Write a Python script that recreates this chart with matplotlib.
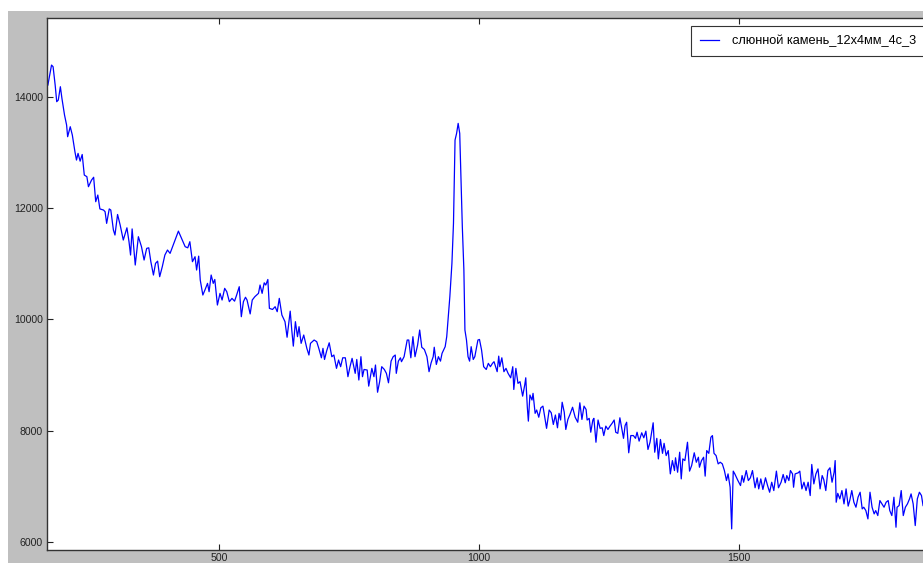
import numpy as np
import matplotlib
matplotlib.use("Agg")
import matplotlib.pyplot as plt
from matplotlib.patches import Rectangle

plt.rcParams['font.family'] = ['Liberation Sans', 'DejaVu Sans']

label = 'слюнной камень_12х4мм_4с_3'

# волновое число (отсчёты с графика)
shift = [
    171, 178, 181, 185, 188, 191, 195, 198, 203, 207, 209, 214, 218, 223, 226, 229,
    233, 237, 241, 246, 249, 255, 259, 263, 267, 271, 278, 281, 284, 289, 292, 297,
    300, 305, 310, 316, 323, 327, 330, 333, 339, 345, 351, 356, 361, 365, 369, 374,
    378, 382, 386, 391, 396, 401, 406, 412, 422, 428, 435, 440, 444, 449, 454,
    457, 461, 464, 469, 473, 478, 481, 485, 489, 492, 497, 502, 506, 511, 515, 520,
    525, 530, 534, 539, 543, 547, 551, 554, 560, 564, 569, 576, 579, 583, 587, 590,
    594, 597, 603, 608, 612, 616, 621, 627, 631, 637, 640, 643, 647, 651, 654, 658,
    663, 669, 673, 676, 683, 688, 692, 697, 700, 703, 707, 712, 717, 721, 726, 730,
    734, 738, 743, 746,
    748, 752, 756, 762, 765, 769, 773, 776, 779, 785, 788, 794, 798, 801, 805, 809,
    813, 818, 822, 826, 831, 835, 839, 841, 845, 849, 851, 856, 862, 865, 869, 873,
    877, 882, 886, 890, 895, 900, 904, 908, 912, 914, 918, 922, 926, 929, 935, 938,
    941, 944, 948, 951, 954, 957, 960, 963, 965, 968, 971, 973, 976, 979, 982, 985,
    989, 992, 998, 1001, 1005, 1009, 1014, 1018, 1022, 1026, 1029,
    1035, 1038, 1040, 1044, 1048, 1052, 1056, 1061, 1065, 1067, 1071, 1075, 1079,
    1084, 1088, 1090, 1093, 1095, 1098, 1102, 1104, 1108, 1111, 1115, 1119, 1123,
    1125, 1130, 1135, 1139, 1143, 1147, 1151, 1154, 1157, 1160, 1164, 1167, 1171,
    1175, 1180, 1185, 1190, 1194, 1198, 1202, 1206, 1208, 1212, 1215, 1219, 1221,
    1225, 1229, 1233, 1237, 1240, 1244, 1248, 1252, 1256, 1260, 1263, 1267, 1271,
    1275, 1278, 1281, 1284, 1288, 1292, 1297, 1301, 1304, 1308, 1313, 1317, 1321, 1325,
    1329, 1335, 1338, 1342, 1345, 1349, 1353, 1356, 1360, 1364, 1368, 1372, 1376,
    1378, 1382, 1386, 1389, 1392, 1396, 1401, 1405, 1409, 1414, 1418, 1422, 1424,
    1428, 1432, 1435, 1438, 1442, 1446, 1449, 1452, 1456, 1460, 1464, 1468, 1472,
    1476, 1479, 1483, 1486, 1489, 1492, 1498, 1503, 1506, 1509, 1514, 1518, 1522,
    1526, 1531, 1535, 1538, 1542, 1546, 1551, 1555, 1559, 1563, 1567, 1572, 1576,
    1581, 1585, 1589, 1592, 1596,
    1599, 1603, 1605, 1608, 1614, 1617, 1621, 1625, 1629, 1633, 1637, 1640, 1644,
    1648, 1652, 1656, 1660, 1663, 1667, 1671, 1675, 1679, 1683, 1685, 1687, 1690,
    1694, 1698, 1702, 1706, 1710, 1713, 1717, 1721, 1725, 1729, 1733, 1737, 1740,
    1744, 1748, 1752, 1756, 1760, 1763, 1767, 1771, 1775, 1779, 1783, 1787, 1790,
    1794, 1798, 1802, 1804, 1808, 1812, 1816, 1820, 1824, 1828, 1831, 1835, 1839,
    1843, 1847, 1851, 1854,
]

# интенсивность
intensity = [
    14220, 14580, 14550, 14220, 13920, 13950, 14190, 13980, 13680, 13500, 13290, 13470,
    13320, 13020, 12870, 12990, 12850, 12970, 12600, 12570, 12390, 12510, 12560, 12120,
    12240, 11990, 11970, 11940, 11730, 11990, 11970, 11610, 11520, 11890, 11700, 11430,
    11650, 11400, 11160, 11630, 10980, 11490, 11310, 11070, 11280, 11290, 11040, 10800,
    11010, 11050, 10770, 10950, 11160, 11250, 11190, 11340, 11590, 11460, 11310, 11290,
    11400, 11040, 11130,
    10890, 11140, 10710, 10440, 10530, 10650, 10500, 10800, 10650, 10720, 10260, 10470,
    10350, 10560, 10500, 10320, 10380, 10330, 10440, 10590, 10050, 10320, 10400, 10350,
    10100, 10350, 10410, 10470, 10620, 10470, 10660, 10620, 10720, 10200, 10180, 10230,
    10140, 10380, 10080, 9960, 9680, 10150, 9810, 9520, 9960, 9690, 9870, 9570, 9720,
    9480, 9360, 9570, 9630, 9600, 9480, 9310, 9480, 9280, 9430, 9580, 9330, 9360, 9120,
    9270, 9150, 9310, 9310, 9120,
    8970, 9150, 9300, 9030, 9280, 8910, 9330, 8970, 9100, 9090, 8800, 9120, 8970, 9180,
    8690, 8880, 9150, 9100, 9030, 8860, 9250, 9330, 9360, 9030, 9250, 9310, 9240, 9330,
    9630, 9630, 9310, 9690, 9330, 9540, 9810, 9500, 9460, 9330, 9060, 9220, 9330, 9500,
    9190, 9330, 9250, 9390, 9510, 9690, 10050, 10410, 11010, 11730, 13230, 13350, 13530,
    13350, 12690, 11670, 10890, 9810, 9630, 9330, 9250, 9510, 9280, 9330, 9630, 9640,
    9450, 9150, 9100, 9210, 9150, 9210, 9240,
    9060, 9340, 9150, 9310, 9060, 9120, 9030, 8950, 9150, 8740, 9120, 8850, 8880, 8620,
    8820, 8950, 8420, 8170, 8640, 8550, 8670, 8310, 8370, 8240, 8410, 8440, 8330, 8040,
    8370, 8320, 8110, 8280, 8050, 8310, 8190, 8510, 8330, 8020, 8200, 8290, 8420, 8240,
    8150, 8500, 8200, 8440, 8380, 8190, 8220, 7970, 8190, 8220, 7790, 8190, 8040, 8050,
    7910, 8080, 8020, 8080, 8130, 8190, 7970, 7950, 8230, 8020, 7860, 8090, 8150, 7600,
    7910, 7910, 7860, 7970, 7810, 7960, 7870, 7990, 7660,
    7790, 8140, 7610, 7860, 7490, 7840, 7590, 7770, 7550, 7640, 7220, 7460, 7280, 7510,
    7250, 7610, 7130, 7490, 7460, 7790, 7270, 7370, 7600, 7430, 7520, 7340, 7460, 7520,
    7180, 7640, 7590, 7880, 7910, 7590, 7550, 7400, 7430, 7400, 7280, 7100, 7220, 6980,
    6230, 7270, 7220, 7100, 7010, 7190, 7070, 7280, 7100, 7150, 7280, 6970, 7150, 6950,
    7130, 6940, 7150, 7010, 6890, 7070, 6920, 7270, 6970, 7070, 7210, 7060, 7190, 7100,
    7280, 7220, 6980, 7220, 7240, 7270, 6950, 7070, 6920, 7070, 6830, 7390, 7040, 7220,
    7310, 6950, 7190, 7120, 6920, 7280, 7330, 7070, 7250, 7460, 6710, 6870, 6770, 6920,
    6680, 6950, 6640, 6740, 6920, 6710, 6620, 6800, 6890, 6590, 6620, 6560, 6410, 6890,
    6620, 6500, 6560, 6470, 6740, 6680, 6620, 6710, 6740, 6560, 6470, 6800, 6260, 6620,
    6650, 6920, 6470, 6620, 6680, 6770, 6860, 6680, 6290, 6770, 6890, 6830, 6650,
]

xticks = [500, 1000, 1500]
yticks = [6000, 8000, 10000, 12000, 14000]

W, H = 923, 563
fig = plt.figure(figsize=(W / 100, H / 100), dpi=100, facecolor='#bfbfbf')

# белые поля скриншота сверху и слева
fig.patches.append(Rectangle((0, 1 - 11 / H), 1, 11 / H, transform=fig.transFigure,
                             facecolor='white', edgecolor='none', zorder=-1))
fig.patches.append(Rectangle((0, 0), 8 / W, 1, transform=fig.transFigure,
                             facecolor='white', edgecolor='none', zorder=-1))

ax = fig.add_axes([47 / W, 1 - 550 / H, (935 - 47) / W, (550 - 18) / H])
ax.plot(shift, intensity, color='#0000ff', lw=0.9, label=label)

ax.set_xlim(169.3, 1877)
ax.set_ylim(5850, 15427)
ax.set_xticks(xticks)
ax.set_yticks(yticks)
ax.tick_params(direction='in', length=4, width=0.8, top=True, right=True,
               labelsize=7.6, colors='#222222', pad=3)
ax.tick_params(axis='x', pad=2)
for s in ax.spines.values():
    s.set_linewidth(1.0)
    s.set_color('#333333')

leg = ax.legend(loc='upper left', bbox_to_anchor=(691 / W, 1 - 26 / H),
                bbox_transform=fig.transFigure, borderaxespad=0, fancybox=False,
                fontsize=9.2, handlelength=1.5, handletextpad=1.0, borderpad=0.7,
                framealpha=1)
leg.get_frame().set_edgecolor('#333333')
leg.get_frame().set_linewidth(0.8)

fig.savefig('out.png', dpi=100, facecolor=fig.get_facecolor())
